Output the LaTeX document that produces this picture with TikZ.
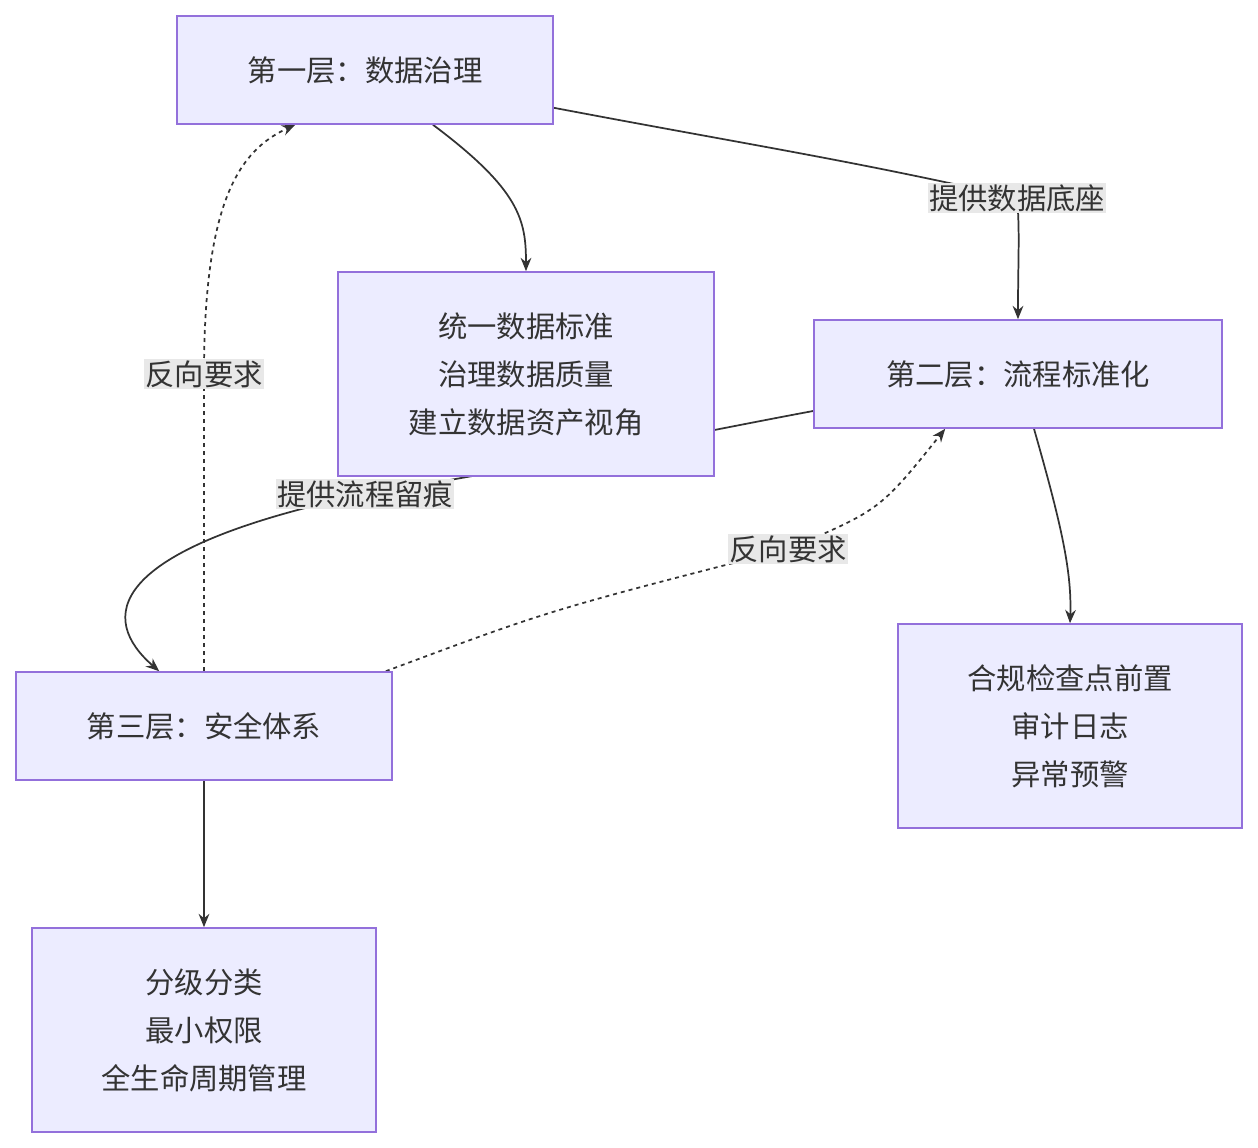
\documentclass[tikz,border=0pt]{standalone}
\usepackage{fontspec}
\setmainfont{Noto Sans CJK SC}
\usetikzlibrary{arrows.meta, positioning, calc, backgrounds}
\definecolor{boxfill}{HTML}{ECECFF}
\definecolor{boxline}{HTML}{9370DB}
\definecolor{ink}{HTML}{333333}
\definecolor{lblfill}{HTML}{E8E8E8}
\tikzset{main node/.style={rectangle,draw=boxline,fill=boxfill,line width=1.2pt,align=center,
           font=\fontsize{22}{36}\selectfont,text=ink,inner sep=0pt},
         lbl/.style={fill=lblfill,inner sep=1pt,font=\fontsize{22}{26}\selectfont,text=ink},
         flow/.style={draw=ink,line width=1.3pt,-{Stealth[length=10pt,width=8pt]}},
         back/.style={flow,dashed,dash pattern=on 3pt off 3pt}}

\begin{document}
\begin{tikzpicture}[x=0.75pt,y=-0.75pt]
       \useasboundingbox (0,0) rectangle (1258,1148);
       \node[main node,minimum width=282pt,minimum height=81pt] (A) at (365,70) {第一层：数据治理};
       \node[main node,minimum width=282pt,minimum height=153pt] (B) at (526,374) {统一数据标准\\治理数据质量\\建立数据资产视角};
       \node[main node,minimum width=306pt,minimum height=81pt] (C) at (1018,374) {第二层：流程标准化};
       \node[main node,minimum width=258pt,minimum height=153pt] (D) at (1070,726) {合规检查点前置\\审计日志\\异常预警};
       \node[main node,minimum width=282pt,minimum height=81pt] (E) at (204,726) {第三层：安全体系};
       \node[main node,minimum width=258pt,minimum height=153pt] (F) at (204,1030) {分级分类\\最小权限\\全生命周期管理};

       \node[lbl] (l1) at (1017,198) {提供数据底座};
       \node[lbl] (l2) at (365,494) {提供流程留痕};
       \node[lbl] (l3) at (204,374) {反向要求};
       \node[lbl] (l4) at (788,549) {反向要求};

       \begin{pgfonlayer}{background}
       \draw[flow] ($(A.south)+(68,0)$) .. controls (520,190) and (526,220) .. (B.north);
       \draw[draw=ink,line width=1.3pt] ($(A.south east)+(0,-17)$) .. controls (750,145) and (850,160) .. (l1.center);
       \draw[flow] (l1.center) .. controls (1020,230) and (1018,260) .. (C.north);
       \draw[draw=ink,line width=1.3pt] ($(C.west)+(0,37)$) .. controls (700,432) and (520,470) .. (l2.center);
       \draw[flow] (l2.center) .. controls (100,550) and (100,620) .. ($(E.north west)+(144,0)$);
       \draw[flow] ($(C.south)+(16,0)$) .. controls (1060,520) and (1072,570) .. (D.north);
       \draw[back,-] (E.north) -- (l3.center);
       \draw[back] (l3.center) .. controls (204,200) and (240,150) .. ($(A.south west)+(119,0)$);
       \draw[back,-] ($(E.north east)+(-7,0)$) .. controls (550,610) .. (l4.center);
       \draw[back] (l4.center) .. controls (880,510) .. ($(C.south west)+(132,0)$);
       \draw[flow] (E.south) -- (F.north);
       \end{pgfonlayer}
\end{tikzpicture}
\end{document}
